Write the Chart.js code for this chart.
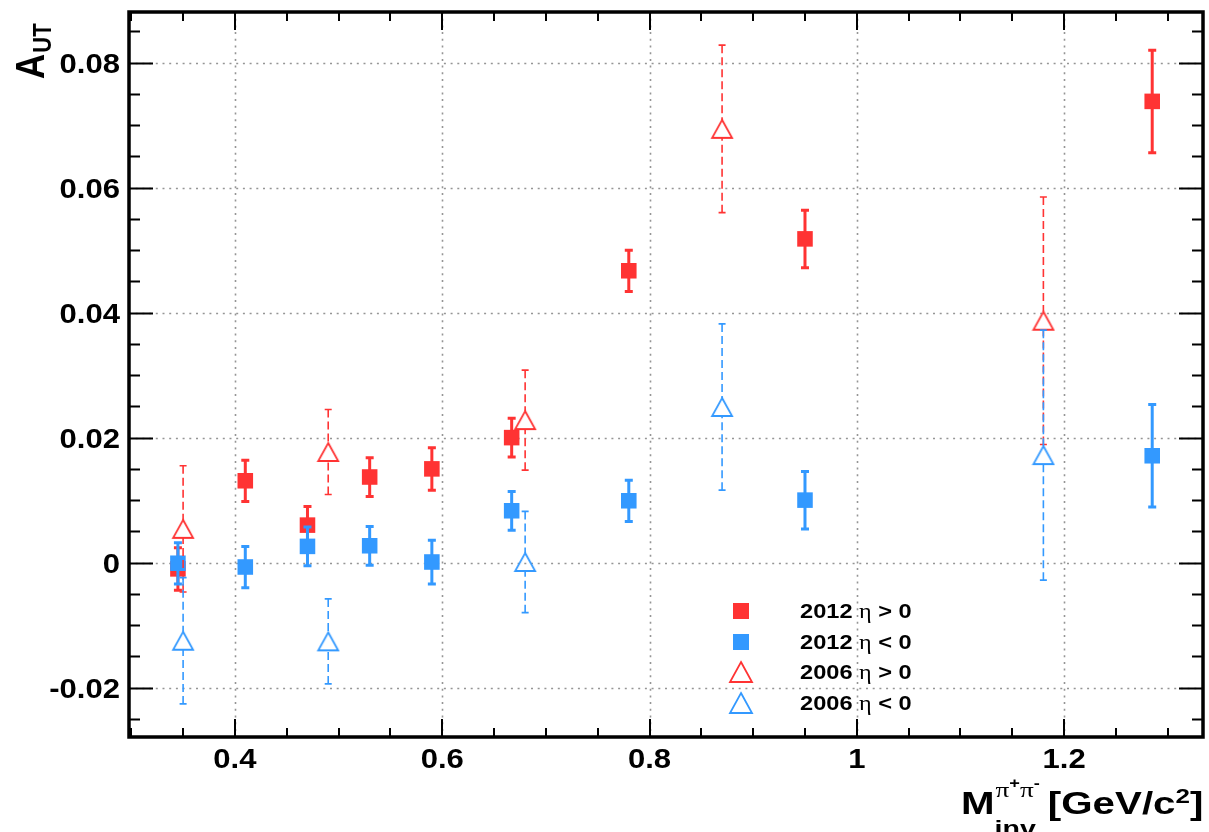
<!DOCTYPE html>
<html>
<head>
<meta charset="utf-8">
<script src="https://cdn.jsdelivr.net/npm/chart.js@4.4.0/dist/chart.umd.min.js"></script>
<style>
  html, body { margin: 0; padding: 0; background: #ffffff; }
  canvas { display: block; }
</style>
</head>
<body>
<canvas id="c" width="1209" height="832" style="width:1209px;height:832px"></canvas>
<script>
// ---------------- data ----------------
const massBins2012 = [0.345, 0.41, 0.47, 0.53, 0.59, 0.667, 0.78, 0.95, 1.285];
const aut2012EtaPos = [-0.0010, 0.0131, 0.0060, 0.0137, 0.0150, 0.0200, 0.0467, 0.0518, 0.0738];
const err2012EtaPos = [0.0034, 0.0033, 0.0030, 0.0031, 0.0034, 0.0031, 0.0033, 0.0046, 0.0082];
const aut2012EtaNeg = [-0.0001, -0.0007, 0.0026, 0.0027, 0.0001, 0.0083, 0.0099, 0.0100, 0.0171];
const err2012EtaNeg = [0.0033, 0.0033, 0.0031, 0.0031, 0.0035, 0.0031, 0.0033, 0.0046, 0.0082];

const massBins2006 = [0.35, 0.49, 0.68, 0.87, 1.18];
const aut2006EtaPos = [0.0054, 0.0177, 0.0228, 0.0694, 0.0387];
const err2006EtaPos = [0.0101, 0.0068, 0.0080, 0.0134, 0.0198];
const aut2006EtaNeg = [-0.0125, -0.0126, 0.0001, 0.0249, 0.0172];
const err2006EtaNeg = [0.0101, 0.0068, 0.0081, 0.0133, 0.0200];

const seriesLabels = ['2012 η > 0', '2012 η < 0', '2006 η > 0', '2006 η < 0'];

const xMajorTicks = [0.4, 0.6, 0.8, 1.0, 1.2];
const xTickLabels = ['0.4', '0.6', '0.8', '1', '1.2'];
const yMajorTicks = [-0.02, 0, 0.02, 0.04, 0.06, 0.08];
const yTickLabels = ['-0.02', '0', '0.02', '0.04', '0.06', '0.08'];
const xAxisRange = [0.2978, 1.334];
const yAxisRange = [-0.0279, 0.0881];
const xMinorStep = 0.05;
const yMinorStep = 0.005;

// ---------------- styles ----------------
const RED = 'rgb(255,51,51)';
const BLUE = 'rgb(51,153,255)';
const SANS = '"Liberation Sans", Arial, Helvetica, sans-serif';
const SERIF = '"Liberation Serif", "DejaVu Serif", serif';
const TEXT_SX = 1.15;

function makeTriangle(color, w, h, lw) {
  const c = document.createElement('canvas');
  c.width = w + 4; c.height = h + 4;
  const g = c.getContext('2d');
  g.strokeStyle = color; g.lineWidth = lw; g.lineJoin = 'miter';
  g.beginPath();
  g.moveTo(c.width / 2, 2);
  g.lineTo(c.width / 2 + w / 2, 2 + h);
  g.lineTo(c.width / 2 - w / 2, 2 + h);
  g.closePath();
  g.stroke();
  return c;
}
const triRed = makeTriangle(RED, 20, 18, 1.8);
const triBlue = makeTriangle(BLUE, 20, 18, 1.8);

function pts(xs, ys) { return xs.map((x, i) => ({ x: x, y: ys[i] })); }

function txt(ctx, s, x, y, font, sx, align) {
  ctx.save();
  ctx.translate(x, y);
  ctx.scale(sx, 1);
  ctx.font = font;
  ctx.textAlign = align || 'left';
  ctx.textBaseline = 'alphabetic';
  ctx.fillStyle = '#000';
  ctx.fillText(s, 0, 0);
  const w = ctx.measureText(s).width * sx;
  ctx.restore();
  return w;
}

const rootStyle = {
  id: 'rootStyle',
  beforeDatasetsDraw(chart) {
    const { ctx, chartArea: a, scales } = chart;
    ctx.save();
    ctx.strokeStyle = '#959595';
    ctx.lineWidth = 1.6;
    ctx.setLineDash([2, 4.7]);
    xMajorTicks.forEach(v => {
      const px = Math.round(scales.x.getPixelForValue(v)) + 0.5;
      ctx.beginPath(); ctx.moveTo(px, a.top); ctx.lineTo(px, a.bottom); ctx.stroke();
    });
    yMajorTicks.forEach(v => {
      const py = Math.round(scales.y.getPixelForValue(v)) + 0.5;
      ctx.beginPath(); ctx.moveTo(a.left, py); ctx.lineTo(a.right, py); ctx.stroke();
    });
    ctx.restore();
  },
  beforeDatasetDraw(chart, args) {
    const ds = chart.data.datasets[args.index];
    if (!ds.errors) return;
    const { ctx, chartArea: a, scales } = chart;
    ctx.save();
    ctx.beginPath(); ctx.rect(a.left, a.top, a.right - a.left, a.bottom - a.top); ctx.clip();
    ctx.strokeStyle = ds.barColor;
    ds.data.forEach((p, k) => {
      const e = ds.errors[k];
      const px = scales.x.getPixelForValue(p.x);
      const py = scales.y.getPixelForValue(p.y);
      const top = scales.y.getPixelForValue(p.y + e);
      const bot = scales.y.getPixelForValue(p.y - e);
      ctx.lineWidth = ds.barWidth;
      ctx.setLineDash(ds.barDash);
      ctx.beginPath();
      if (top < py - ds.barGap) { ctx.moveTo(px, top); ctx.lineTo(px, py - ds.barGap); }
      if (bot > py + ds.barGap) { ctx.moveTo(px, bot); ctx.lineTo(px, py + ds.barGap); }
      ctx.stroke();
      ctx.setLineDash([]);
      ctx.lineWidth = ds.capWidth;
      ctx.beginPath();
      ctx.moveTo(px - ds.capHalf, top); ctx.lineTo(px + ds.capHalf, top);
      ctx.moveTo(px - ds.capHalf, bot); ctx.lineTo(px + ds.capHalf, bot);
      ctx.stroke();
    });
    ctx.restore();
  },
  afterDraw(chart) {
    const { ctx, chartArea: a, scales } = chart;
    ctx.save();
    // ticks (inward, on all four sides)
    ctx.strokeStyle = '#000';
    ctx.lineWidth = 2;
    ctx.beginPath();
    const isMajor = (v, list) => list.some(m => Math.abs(m - v) < 1e-9);
    for (let i = Math.ceil(xAxisRange[0] / xMinorStep - 1e-6); i * xMinorStep <= xAxisRange[1] + 1e-9; i++) {
      const v = +(i * xMinorStep).toFixed(6);
      const px = Math.round(scales.x.getPixelForValue(v));
      const len = isMajor(v, xMajorTicks) ? 18 : 9;
      ctx.moveTo(px, a.bottom); ctx.lineTo(px, a.bottom - len);
      ctx.moveTo(px, a.top); ctx.lineTo(px, a.top + len);
    }
    for (let i = Math.ceil(yAxisRange[0] / yMinorStep - 1e-6); i * yMinorStep <= yAxisRange[1] + 1e-9; i++) {
      const v = +(i * yMinorStep).toFixed(6);
      const py = Math.round(scales.y.getPixelForValue(v)) + 0.5;
      const len = isMajor(v, yMajorTicks) ? 24 : 11;
      ctx.moveTo(a.left, py); ctx.lineTo(a.left + len, py);
      ctx.moveTo(a.right, py); ctx.lineTo(a.right - len, py);
    }
    ctx.stroke();
    // frame
    ctx.lineWidth = 3.5;
    ctx.strokeRect(a.left, a.top, a.right - a.left, a.bottom - a.top);
    ctx.restore();

    // tick labels
    const tickFont = 'bold 27px ' + SANS;
    yMajorTicks.forEach((v, i) => {
      txt(ctx, yTickLabels[i], 120, scales.y.getPixelForValue(v) + 10.5, tickFont, TEXT_SX, 'right');
    });
    xMajorTicks.forEach((v, i) => {
      txt(ctx, xTickLabels[i], scales.x.getPixelForValue(v), 768, tickFont, TEXT_SX, 'center');
    });

    // y axis title  A_UT (rotated)
    ctx.save();
    ctx.translate(44, 79);
    ctx.scale(1.15, 1);
    ctx.rotate(-Math.PI / 2);
    ctx.fillStyle = '#000';
    ctx.textBaseline = 'alphabetic';
    ctx.font = 'bold 35px ' + SANS;
    ctx.fillText('A', 0, 0);
    const wA = ctx.measureText('A').width;
    ctx.font = 'bold 22px ' + SANS;
    ctx.fillText('UT', wA + 1, 6);
    ctx.restore();

    // x axis title  M_inv^{π+π-} [GeV/c^2]
    const XS = 1.3;
    let x = 961;
    const base = 814;
    x += txt(ctx, 'M', x, base, 'bold 31px ' + SANS, XS);
    const subStart = x;
    const wInv = txt(ctx, 'inv', subStart, 836, 'bold 22px ' + SANS, XS);
    let sx = subStart + 1;
    sx += txt(ctx, 'π', sx, 797, '21px ' + SERIF, XS);
    sx += txt(ctx, '+', sx, 788, 'bold 14px ' + SANS, XS);
    sx += txt(ctx, 'π', sx, 797, '21px ' + SERIF, XS);
    sx += txt(ctx, '-', sx, 788, 'bold 14px ' + SANS, XS);
    x = Math.max(subStart + wInv, sx) + 8;
    x += txt(ctx, '[GeV/c', x, base, 'bold 31px ' + SANS, XS);
    x += txt(ctx, '2', x, 803, 'bold 20px ' + SANS, XS);
    txt(ctx, ']', x, base, 'bold 31px ' + SANS, XS);

    // legend
    const rowsY = [611, 642, 672, 703];
    const legendFont = 'bold 20px ' + SANS;
    chart.data.datasets.forEach((ds, i) => {
      const cy = rowsY[i];
      const mx = 741;
      ctx.save();
      if (ds.legendMarker === 'square') {
        ctx.fillStyle = ds.backgroundColor;
        ctx.fillRect(mx - 8, cy - 8, 16, 16);
      } else {
        ctx.strokeStyle = ds.borderColor;
        ctx.lineWidth = 1.8;
        ctx.beginPath();
        ctx.moveTo(mx, cy - 10); ctx.lineTo(mx + 11, cy + 10); ctx.lineTo(mx - 11, cy + 10);
        ctx.closePath(); ctx.stroke();
      }
      ctx.restore();
      const parts = seriesLabels[i].split('η');
      let tx = 800;
      tx += txt(ctx, parts[0], tx, cy + 7, legendFont, 1.18);
      tx += txt(ctx, 'η', tx, cy + 7, '22px ' + SERIF, 1.1);
      txt(ctx, parts[1], tx, cy + 7, legendFont, 1.18);
    });
  }
};

const chart = new Chart(document.getElementById('c'), {
  type: 'scatter',
  data: {
    datasets: [
      {
        label: seriesLabels[0], data: pts(massBins2012, aut2012EtaPos), errors: err2012EtaPos,
        pointStyle: 'rect', pointRadius: 11, backgroundColor: RED, borderColor: RED, borderWidth: 0,
        barColor: RED, barWidth: 3, barDash: [], barGap: 0, capWidth: 3, capHalf: 4,
        legendMarker: 'square', order: 3
      },
      {
        label: seriesLabels[1], data: pts(massBins2012, aut2012EtaNeg), errors: err2012EtaNeg,
        pointStyle: 'rect', pointRadius: 11, backgroundColor: BLUE, borderColor: BLUE, borderWidth: 0,
        barColor: BLUE, barWidth: 3, barDash: [], barGap: 0, capWidth: 3, capHalf: 4,
        legendMarker: 'square', order: 2
      },
      {
        label: seriesLabels[2], data: pts(massBins2006, aut2006EtaPos), errors: err2006EtaPos,
        pointStyle: triRed, pointRadius: 10, backgroundColor: 'rgba(0,0,0,0)', borderColor: RED, borderWidth: 0,
        barColor: RED, barWidth: 1.6, barDash: [8, 4], barGap: 9, capWidth: 1.6, capHalf: 3.5,
        legendMarker: 'triangle', order: 1
      },
      {
        label: seriesLabels[3], data: pts(massBins2006, aut2006EtaNeg), errors: err2006EtaNeg,
        pointStyle: triBlue, pointRadius: 10, backgroundColor: 'rgba(0,0,0,0)', borderColor: BLUE, borderWidth: 0,
        barColor: BLUE, barWidth: 1.6, barDash: [8, 4], barGap: 9, capWidth: 1.6, capHalf: 3.5,
        legendMarker: 'triangle', order: 0
      }
    ]
  },
  options: {
    responsive: false,
    animation: false,
    devicePixelRatio: 1,
    events: [],
    layout: { autoPadding: false, padding: { left: 0, right: 6, top: 12, bottom: 0 } },
    plugins: { legend: { display: false }, tooltip: { enabled: false }, title: { display: false } },
    scales: {
      x: {
        type: 'linear', min: xAxisRange[0], max: xAxisRange[1],
        afterBuildTicks: s => { s.ticks = xMajorTicks.map(v => ({ value: v })); },
        afterFit: s => { s.height = 95; },
        ticks: { display: false },
        grid: { display: false },
        border: { display: false }
      },
      y: {
        type: 'linear', min: yAxisRange[0], max: yAxisRange[1],
        afterBuildTicks: s => { s.ticks = yMajorTicks.map(v => ({ value: v })); },
        afterFit: s => { s.width = 129; },
        ticks: { display: false },
        grid: { display: false },
        border: { display: false }
      }
    }
  },
  plugins: [rootStyle]
});
</script>
</body>
</html>
